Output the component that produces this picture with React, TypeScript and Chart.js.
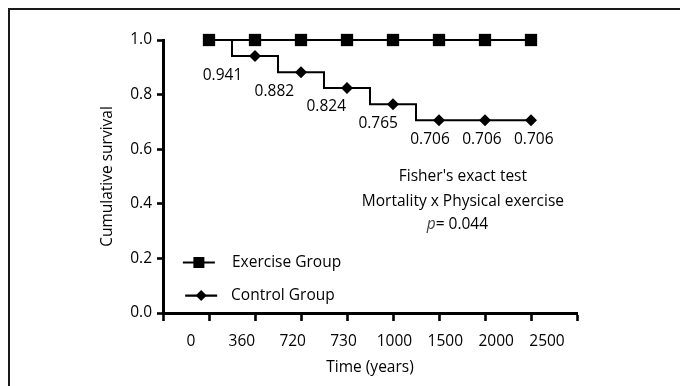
import { useEffect, useRef } from 'react';
import { Chart, registerables } from 'chart.js';

Chart.register(...registerables);

const timeLabels = ['0', '360', '720', '730', '1000', '1500', '2000', '2500'];
const exerciseSurvival = [1, 1, 1, 1, 1, 1, 1, 1];
const controlSurvival = [1, 0.941, 0.882, 0.824, 0.765, 0.706, 0.706, 0.706];
const controlValueLabels = ['', '0.941', '0.882', '0.824', '0.765', '0.706', '0.706', '0.706'];
const yTicks = [0, 0.2, 0.4, 0.6, 0.8, 1.0];
const seriesNames = ['Exercise Group', 'Control Group'];
const annotationLines = ["Fisher's exact test", 'Mortality x Physical exercise'];
const pValueText = '= 0.044';

const FONT = '"Open Sans", sans-serif';
const SIZE = 15.5;
const INK = '#000';
const W = 680;
const H = 386;

function drawSquare(ctx: CanvasRenderingContext2D, x: number, y: number, half: number) {
  ctx.fillRect(x - half, y - half, half * 2, half * 2);
}
function drawDiamond(ctx: CanvasRenderingContext2D, x: number, y: number, r: number) {
  ctx.beginPath();
  ctx.moveTo(x, y - r);
  ctx.lineTo(x + r, y);
  ctx.lineTo(x, y + r);
  ctx.lineTo(x - r, y);
  ctx.closePath();
  ctx.fill();
}

const framePlugin = {
  id: 'frame',
  beforeDraw(chart: any) {
    const ctx: CanvasRenderingContext2D = chart.ctx;
    ctx.save();
    ctx.fillStyle = '#fff';
    ctx.fillRect(0, 0, chart.width, chart.height);
    ctx.fillStyle = '#1a1a1a';
    ctx.fillRect(8, 8, chart.width - 8, 2);
    ctx.fillRect(8, 8, 2, chart.height - 8);
    ctx.restore();
  },
};

const overlayPlugin = {
  id: 'overlay',
  afterDatasetsDraw(chart: any) {
    const ctx: CanvasRenderingContext2D = chart.ctx;
    const xs = chart.scales.x;
    const ys = chart.scales.y;
    const xl = chart.scales.xl;
    ctx.save();
    ctx.fillStyle = INK;
    ctx.strokeStyle = INK;
    ctx.font = `${SIZE}px ${FONT}`;
    ctx.textAlign = 'center';
    ctx.textBaseline = 'middle';

    // value labels under control points
    controlSurvival.forEach((v, i) => {
      const txt = controlValueLabels[i];
      if (!txt) return;
      const px = xl.getPixelForValue(i * 1.02 - 0.4);
      const py = ys.getPixelForValue(v) + 19;
      ctx.fillText(txt, px, py);
    });

    // annotation
    const ax = xs.getPixelForValue(6.52);
    ctx.fillText(annotationLines[0], ax, ys.getPixelForValue(0.5));
    ctx.fillText(annotationLines[1], ax, ys.getPixelForValue(0.409));
    const py3 = ys.getPixelForValue(0.325);
    ctx.font = `italic ${SIZE}px ${FONT}`;
    const wp = ctx.measureText('p').width;
    ctx.font = `${SIZE}px ${FONT}`;
    const wr = ctx.measureText(pValueText).width;
    const cx3 = xs.getPixelForValue(6.4);
    const start = cx3 - (wp + wr) / 2;
    ctx.textAlign = 'left';
    ctx.font = `italic ${SIZE}px ${FONT}`;
    ctx.fillStyle = '#444';
    ctx.fillText('p', start, py3);
    ctx.fillStyle = INK;
    ctx.font = `${SIZE}px ${FONT}`;
    ctx.fillText(pValueText, start + wp, py3);

    // legend
    const legendY = [0.185, 0.064];
    const mx = [xs.getPixelForValue(0.78), xs.getPixelForValue(0.83)];
    const tx = [xs.getPixelForValue(1.5), xs.getPixelForValue(1.48)];
    ctx.lineWidth = 2.2;
    legendY.forEach((lv, i) => {
      const y = ys.getPixelForValue(lv);
      ctx.beginPath();
      ctx.moveTo(mx[i] - 16, y);
      ctx.lineTo(mx[i] + 16, y);
      ctx.stroke();
      if (i === 0) drawSquare(ctx, mx[i], y, 5.5);
      else drawDiamond(ctx, mx[i], y, 5.5);
      ctx.textAlign = 'left';
      ctx.fillText(seriesNames[i], tx[i], y);
    });
    ctx.restore();
  },
};

export default function App() {
  const ref = useRef<HTMLCanvasElement | null>(null);
  useEffect(() => {
    if (!ref.current) return;
    const font = { family: FONT, size: SIZE };
    const chart = new Chart(ref.current, {
      type: 'line',
      data: {
        datasets: [
          {
            label: seriesNames[0],
            data: exerciseSurvival.map((v, i) => ({ x: i + 1, y: v })),
            borderColor: INK,
            backgroundColor: INK,
            borderWidth: 2.2,
            pointStyle: 'rect',
            pointRadius: 8.7,
            pointBorderWidth: 0,
            pointBackgroundColor: INK,
            clip: false as any,
            xAxisID: 'x',
            yAxisID: 'y',
          },
          {
            label: seriesNames[1],
            data: controlSurvival.map((v, i) => ({ x: i + 1, y: v })),
            borderColor: INK,
            backgroundColor: INK,
            borderWidth: 2,
            stepped: 'middle',
            pointStyle: 'rectRot',
            pointRadius: 6,
            pointBorderWidth: 0,
            pointBackgroundColor: INK,
            clip: false as any,
            xAxisID: 'x',
            yAxisID: 'y',
          },
        ],
      },
      options: {
        animation: false,
        responsive: false,
        events: [],
        layout: { padding: { left: 98, top: 40, right: 103, bottom: 0 } },
        plugins: { legend: { display: false }, tooltip: { enabled: false } },
        scales: {
          x: {
            type: 'linear',
            position: 'bottom',
            weight: 0,
            min: 0,
            max: 9,
            ticks: { display: false, stepSize: 1 },
            grid: { drawOnChartArea: false, drawTicks: true, tickLength: 8, tickWidth: 2.6, color: INK },
            border: { color: INK, width: 3 },
            afterFit: (s: any) => { s.height = 9; },
          },
          xl: {
            type: 'linear',
            position: 'bottom',
            weight: 1,
            min: -0.55,
            max: 7.59,
            afterBuildTicks: (s: any) => { s.ticks = timeLabels.map((_, i) => ({ value: i })); },
            ticks: {
              font,
              color: INK,
              padding: 2,
              autoSkip: false,
              maxRotation: 0,
              callback: (_v: any, i: number) => timeLabels[i],
            },
            grid: { display: false },
            border: { display: false },
            title: { display: true, text: 'Time (years)', font, color: INK, padding: { top: 0, bottom: 9 } },
            afterFit: (s: any) => { s.height = 64; },
          },
          y: {
            type: 'linear',
            min: 0,
            max: 1,
            afterBuildTicks: (s: any) => { s.ticks = yTicks.map((v) => ({ value: v })); },
            ticks: { font, color: INK, padding: 5, callback: (v: any) => Number(v).toFixed(1) },
            grid: { drawOnChartArea: false, tickLength: 6, tickWidth: 2.6, color: INK },
            border: { color: INK, width: 3 },
            title: { display: true, text: 'Cumulative survival', font, color: INK, padding: { top: 0, bottom: 0 } },
            afterFit: (s: any) => { s.width = 65; },
          },
        },
      } as any,
      plugins: [framePlugin, overlayPlugin],
    });
    return () => chart.destroy();
  }, []);

  return (
    <div style={{ position: 'fixed', left: 0, top: 0, width: W, height: H, overflow: 'hidden', background: '#fff' }}>
      <canvas ref={ref} width={W} height={H} style={{ display: 'block' }} />
    </div>
  );
}
